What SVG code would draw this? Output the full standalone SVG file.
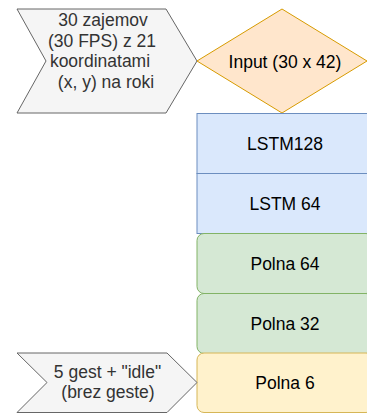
<svg xmlns="http://www.w3.org/2000/svg" width="367" height="414" viewBox="0 0 367 414">
<style>
text{font-family:"Liberation Sans",Arial,sans-serif;font-size:17.5px;text-anchor:middle}
.chev{fill:#f5f5f5;stroke:#666666;stroke-width:1}
.chevt{fill:#333333}
.lbl{fill:#000000}
.blue{fill:#dae8fc;stroke:#6c8ebf;stroke-width:1}
.green{fill:#d5e8d4;stroke:#82b366;stroke-width:1}
.yellow{fill:#fff2cc;stroke:#d6b656;stroke-width:1}
.orange{fill:#ffe6cc;stroke:#d79b00;stroke-width:1}
</style>
<rect width="367" height="414" fill="#ffffff"/>
<g id="connectors"></g>
<g id="input-desc">
<polygon class="chev" points="17,9 166,9 197,61 166,113 17,113 46,61"/>
<text class="chevt" x="103" y="26">30 zajemov</text>
<text class="chevt" x="102" y="46.7">(30 FPS) z 21</text>
<text class="chevt" x="100" y="67.3">koordinatami</text>
<text class="chevt" x="106" y="88">(x, y) na roki</text>
</g>
<g id="input">
<polygon class="orange" points="282,9 367,61 282,113 197,61"/>
<text class="lbl" x="285" y="67.5">Input (30 x 42)</text>
</g>
<g id="lstm128">
<rect class="blue" x="197" y="113.5" width="176" height="60"/>
<text class="lbl" x="285" y="149.5">LSTM128</text>
</g>
<g id="lstm64">
<rect class="blue" x="197" y="173.5" width="176" height="60"/>
<text class="lbl" x="285" y="209.5">LSTM 64</text>
</g>
<g id="polna64">
<rect class="green" x="197" y="233.5" width="176" height="60" rx="7" ry="7"/>
<text class="lbl" x="285" y="269.5">Polna 64</text>
</g>
<g id="polna32">
<rect class="green" x="197" y="293.5" width="176" height="60" rx="7" ry="7"/>
<text class="lbl" x="285" y="329.5">Polna 32</text>
</g>
<g id="polna6">
<rect class="yellow" x="197" y="353" width="176" height="59.5" rx="7" ry="7"/>
<text class="lbl" x="285" y="389.3">Polna 6</text>
</g>
<g id="output-desc">
<polygon class="chev" points="17,353 167,353 197,382.5 167,412.5 17,412.5 47,382.5"/>
<text class="chevt" x="107.5" y="378.3">5 gest + "idle"</text>
<text class="chevt" x="108" y="398.3">(brez geste)</text>
</g>
</svg>
